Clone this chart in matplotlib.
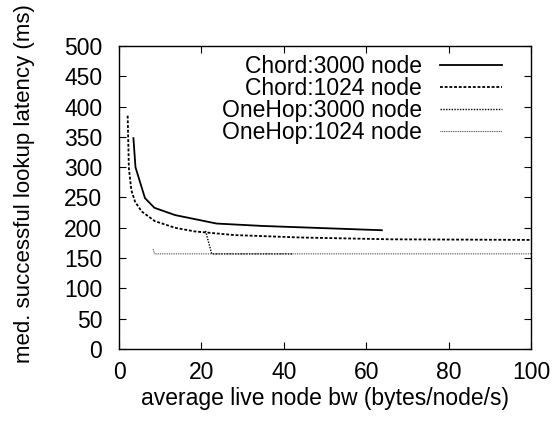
import matplotlib
matplotlib.use("Agg")
import matplotlib.pyplot as plt

plt.rcParams["font.family"] = ["Liberation Sans", "DejaVu Sans"]

# values
chord3000_x = [3.5, 4.0, 6.3, 8.6, 13.6, 23.7, 35, 63.8]
chord3000_y = [348, 300, 249, 233, 221, 207, 203, 196]

chord1024_x = [2.1, 2.4, 3.0, 3.9, 5.5, 8.7, 13.6, 18.4, 28, 44, 66, 100]
chord1024_y = [385, 298, 262, 243, 227, 211, 200, 194, 188, 184, 181, 180]

onehop3000_x = [21.0, 22.5, 30, 42]
onehop3000_y = [195, 157, 157, 157]

onehop1024_x = [8.3, 8.6, 20, 40, 60, 80, 100]
onehop1024_y = [165, 157, 157, 157, 157, 157, 157]

FS = 16.5

fig = plt.figure(figsize=(5.57, 4.24), dpi=100)
ax = fig.add_axes([119 / 557, 75 / 424, 412 / 557, 303 / 424])

ax.plot(chord3000_x, chord3000_y, color="black", lw=1.3, label="Chord:3000 node")
ax.plot(chord1024_x, chord1024_y, color="black", lw=1.3, ls=(0, (1.6, 1.0)),
        label="Chord:1024 node")
ax.plot(onehop3000_x, onehop3000_y, color="black", lw=1.0, ls=(0, (1, 1)),
        label="OneHop:3000 node")
ax.plot(onehop1024_x, onehop1024_y, color="#444444", lw=0.8, ls=(0, (0.8, 0.8)),
        label="OneHop:1024 node")

ax.set_xlim(0, 100)
ax.set_ylim(0, 500)
ax.set_xticks(range(0, 101, 20))
ax.set_yticks(range(0, 501, 50))
ax.tick_params(direction="in", length=5, top=True, right=True, labelsize=FS)
ax.tick_params(axis="x", pad=8.5)
ax.tick_params(axis="y", pad=12)
for s in ax.spines.values():
    s.set_linewidth(1.0)

ax.set_xlabel("average live node bw (bytes/node/s)", fontsize=FS, labelpad=2)
ax.set_ylabel("med. successful lookup latency (ms)", fontsize=16)
# label sits a little above the axes centre in the original
ax.yaxis.set_label_coords(-0.205, 0.545)

ax.legend(loc="upper right", bbox_to_anchor=(0.93, 0.97), frameon=False,
          markerfirst=False, fontsize=FS, handlelength=2.7, handletextpad=0.8,
          labelspacing=-0.05, borderaxespad=0, borderpad=0)

fig.savefig("out.png", dpi=100)
